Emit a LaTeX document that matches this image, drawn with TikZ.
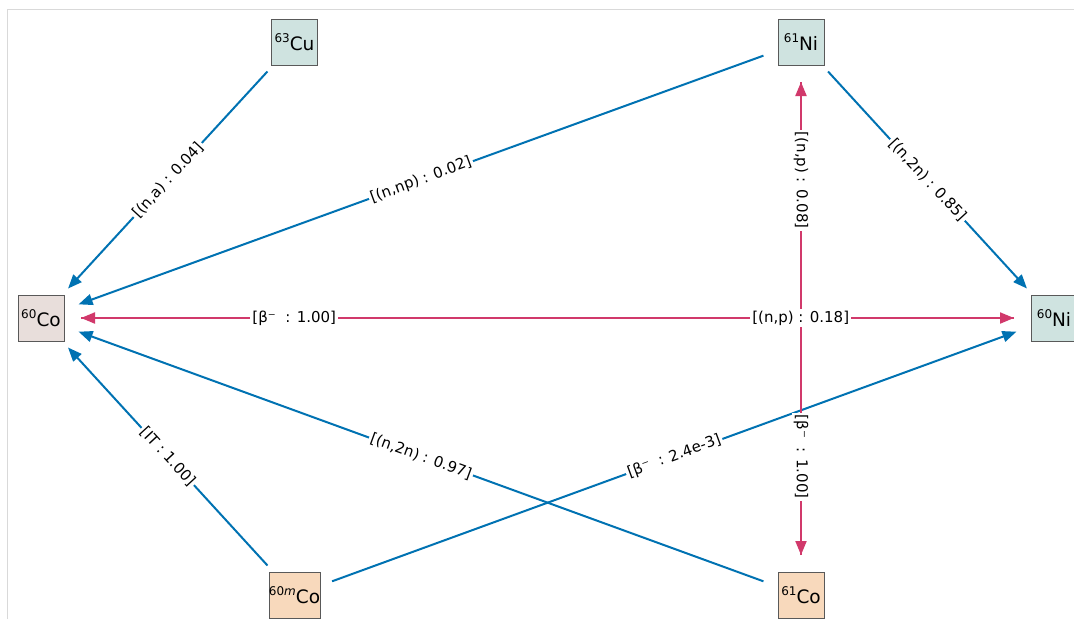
\documentclass[tikz,border=0pt]{standalone}
\usepackage{fontspec}
\setmainfont{DejaVu Sans}
\usetikzlibrary{arrows.meta}
\definecolor{flow}{HTML}{0072B2}
\definecolor{decay}{HTML}{D1396B}
\definecolor{stable}{HTML}{CFE3E0}
\definecolor{parent}{HTML}{E8DEDB}
\definecolor{activ}{HTML}{F8D9BC}
\newcommand\iso[2]{\raisebox{0.42em}{\fontsize{12}{12}\selectfont #1}#2}
\begin{document}
\begin{tikzpicture}[x=1pt,y=-1pt,
  nuc/.style={draw=black!65, line width=0.8pt, minimum size=46pt, inner sep=0pt,
              font=\fontsize{18.5}{20}\selectfont},
  link/.style={line width=2pt, shorten <=40pt, shorten >=40pt,
               -{Triangle[length=14pt,width=11pt]}},
  lbl/.style={fill=white, inner sep=2pt, font=\fontsize{15}{17}\selectfont}]
\useasboundingbox (0,0) rectangle (1074,619);
% frame
\draw[black!15, line width=0.8pt] (7,619) -- (7,9) -- (1074,9);

% nuclides
\node[nuc, fill=stable] (cu63)  at (294.5,42)  {\iso{63}{Cu}};
\node[nuc, fill=stable] (ni61)  at (801,42)    {\iso{61}{Ni}};
\node[nuc, fill=parent] (co60)  at (41,318)    {\iso{60}{Co}};
\node[nuc, fill=stable] (ni60)  at (1054,318)  {\iso{60}{Ni}};
\node[nuc, fill=activ]  (co60m) at (294.5,595) {\iso{60\textit{m}}{Co}};
\node[nuc, fill=activ]  (co61)  at (801,595)   {\iso{61}{Co}};

% reactions
\draw[link, flow]  (cu63.center)  -- (co60.center);
\draw[link, flow]  (ni61.center)  -- (co60.center);
\draw[link, flow]  (ni61.center)  -- (ni60.center);
\draw[link, flow]  (co60m.center) -- (co60.center);
\draw[link, flow]  (co60m.center) -- (ni60.center);
\draw[link, flow]  (co61.center)  -- (co60.center);
\draw[link, decay] (co60.center)  -- (ni60.center);
\draw[link, decay] (ni60.center)  -- (co60.center);
\draw[link, decay] (co61.center)  -- (ni61.center);
\draw[link, decay] (ni61.center)  -- (co61.center);

% labels
\path (cu63.center)  -- node[lbl, rotate=47.4]  {[(n,a) : 0.04]} (co60.center);
\path (ni61.center)  -- node[lbl, rotate=20]    {[(n,np) : 0.02]} (co60.center);
\path (ni61.center)  -- node[lbl, rotate=-47.4] {[(n,2n) : 0.85]} (ni60.center);
\path (co60m.center) -- node[lbl, rotate=-47.4] {[IT : 1.00]} (co60.center);
\path (co60m.center) -- node[lbl, rotate=20]    {[β⁻\ \ : 2.4e-3]} (ni60.center);
\path (co61.center)  -- node[lbl, rotate=-20]   {[(n,2n) : 0.97]} (co60.center);
\path (co60.center)  -- node[lbl, pos=0.75] {[(n,p) : 0.18]} (ni60.center);
\path (ni60.center)  -- node[lbl, pos=0.75] {[β⁻\ \ : 1.00]} (co60.center);
\path (co61.center)  -- node[lbl, pos=0.75, rotate=-90] {[(n,p) : 0.08]} (ni61.center);
\path (ni61.center)  -- node[lbl, pos=0.75, rotate=-90] {[β⁻\ \ : 1.00]} (co61.center);
\end{tikzpicture}
\end{document}
